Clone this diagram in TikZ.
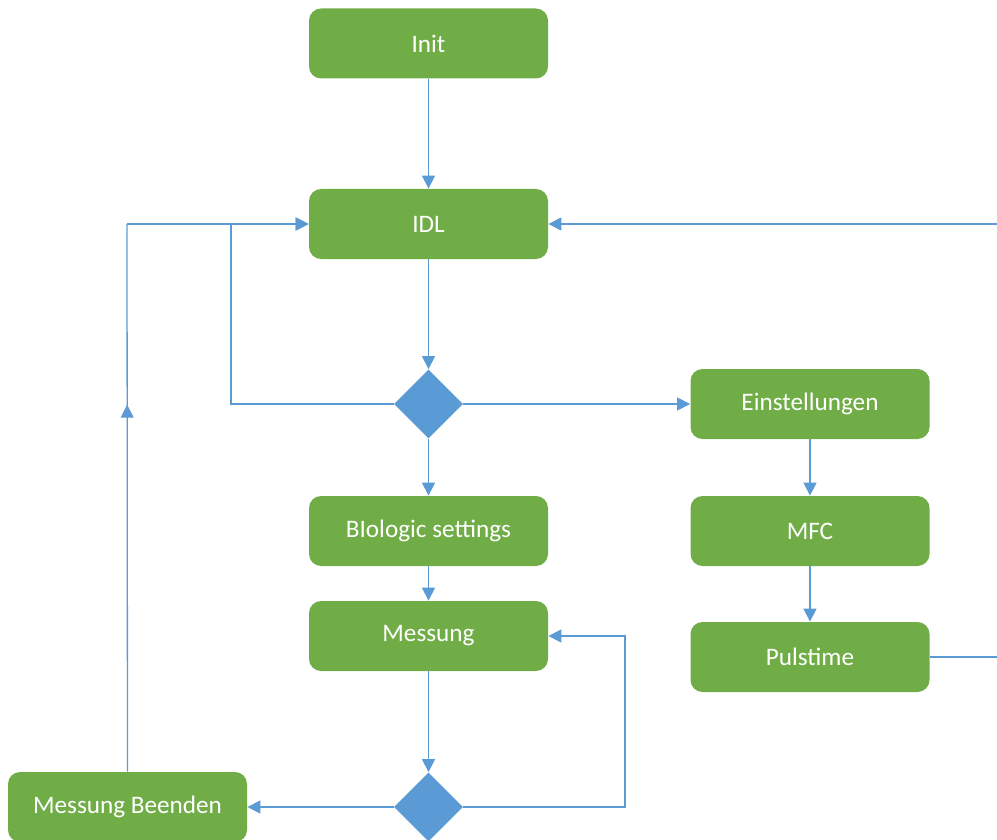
\documentclass[tikz,border=0pt]{standalone}
\usepackage{fontspec}
\setmainfont{Carlito}
\usetikzlibrary{arrows.meta,shapes.geometric,calc,decorations.markings}
\definecolor{boxgreen}{HTML}{70AD47}
\definecolor{flowblue}{HTML}{5B9BD5}
\tikzset{
  stepbox/.style={rectangle, rounded corners=6pt, fill=boxgreen, draw=none,
    minimum width=119.5pt, minimum height=35pt, inner sep=0pt,
    text=white, font=\fontsize{12.6pt}{15pt}\selectfont},
  choice/.style={diamond, fill=flowblue, draw=none, minimum width=34.5pt,
    minimum height=34.5pt, inner sep=0pt},
  flow/.style={draw=flowblue, line width=0.65pt,
    -{Triangle[length=6.5pt,width=6.5pt]}},
  link/.style={draw=flowblue, line width=0.65pt},
  midarrow/.style={postaction={decorate}, decoration={markings,
    mark=at position #1 with {\arrow{Triangle[length=6.5pt,width=6.5pt]}}}}
}
\begin{document}
\begin{tikzpicture}[x=0.5pt, y=-0.5pt]
\useasboundingbox (0,0) rectangle (997,840);
\clip (0,0) rectangle (997,840);

% boxes
\node[stepbox] (init) at (428.5,43.5) {Init};
\node[stepbox] (idl) at (428.5,224) {IDL};
\node[choice] (d1) at (428.5,404) {};
\node[stepbox] (einst) at (810,404) {Einstellungen};
\node[stepbox] (bio) at (428.5,531) {BIologic settings};
\node[stepbox] (mfc) at (810,531) {MFC};
\node[stepbox] (mess) at (428.5,636) {Messung};
\node[stepbox] (puls) at (810,657) {Pulstime};
\node[choice] (d2) at (428.5,807) {};
\node[stepbox] (ende) at (127.5,807) {Messung Beenden};

% helper corners
\coordinate (retA) at (231,224);
\coordinate (retB) at (127,224);
\coordinate (loopR) at (625,636);
\coordinate (farR) at (1005,224);

% main line
\draw[flow] (init) -- (idl);
\draw[flow] (idl) -- (d1);
\draw[flow] (d1) -- (bio);
\draw[flow] (bio) -- (mess);
\draw[flow] (mess) -- (d2);

% settings branch
\draw[flow] (d1) -- (einst);
\draw[flow] (einst) -- (mfc);
\draw[flow] (mfc) -- (puls);
\draw[flow] (puls.east) -| (farR) -- (idl.east);

% loops back to IDL
\draw[flow] (d1.west) -| (retA) -- (idl.west);
\draw[link, midarrow=0.67] (ende.north) -- (retB);
\draw[flow] (retB) -- (idl.west);

% measurement loop
\draw[flow] (d2.east) -| (loopR) -- (mess.east);
\draw[flow] (d2) -- (ende);
\end{tikzpicture}
\end{document}
